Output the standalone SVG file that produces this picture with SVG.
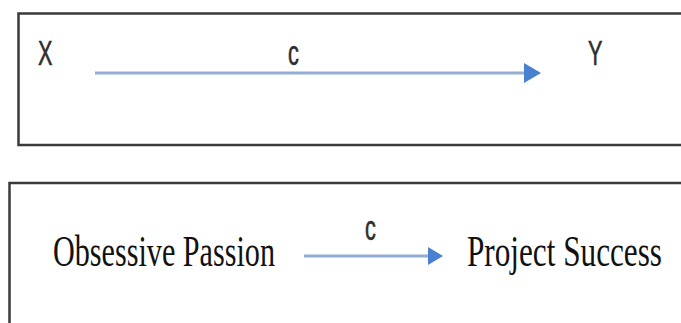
<svg xmlns="http://www.w3.org/2000/svg" width="681" height="323" viewBox="0 0 681 323">
  <defs>
    <style>
      .frame { fill: #ffffff; stroke: #3a3a3a; stroke-width: 2.5; }
      .sym { font-family: "Liberation Sans", Arial, sans-serif; font-size: 35px; fill: #2e2e2e; stroke: #2e2e2e; stroke-width: 0.6; }
      .term { font-family: "Liberation Serif", "Times New Roman", serif; font-size: 30.5px; fill: #111111; }
      .link { stroke: #93add3; stroke-width: 3; fill: none; }
      .head { fill: #4a80d2; }
    </style>
  </defs>

  <rect width="681" height="323" fill="#ffffff"/>

  <!-- upper panel: generic path X to Y -->
  <g id="panel-generic">
    <rect class="frame" x="18.5" y="13.5" width="700" height="131.5"/>
  </g>
  <g id="node-x">
    <text class="sym" transform="translate(38 65) scale(0.62 1)">X</text>
  </g>
  <g id="node-y">
    <text class="sym" transform="translate(588 65) scale(0.62 1)">Y</text>
  </g>

  <!-- lower panel: applied path; labels stretched tall about their baseline (y=266) -->
  <g id="panel-applied">
    <rect class="frame" x="9.5" y="183" width="700" height="200"/>
  </g>
  <g id="node-passion">
    <text class="term" x="53" y="266" textLength="222" lengthAdjust="spacingAndGlyphs" transform="matrix(1 0 0 1.42 0 -111.72)">Obsessive Passion</text>
  </g>
  <g id="node-success">
    <text class="term" x="467" y="266" textLength="195" lengthAdjust="spacingAndGlyphs" transform="matrix(1 0 0 1.42 0 -111.72)">Project Success</text>
  </g>

  <!-- connectors -->
  <g id="connectors">
    <line class="link" x1="95" y1="73" x2="526" y2="73"/>
    <polygon class="head" points="524,63 541,73 524,83"/>
    <text class="sym" transform="translate(288 65) scale(0.62 1)">c</text>

    <line class="link" x1="304" y1="256" x2="430" y2="256"/>
    <polygon class="head" points="428,247 443,256 428,265"/>
    <text class="sym" transform="translate(365 240) scale(0.62 1)">c</text>
  </g>
</svg>
